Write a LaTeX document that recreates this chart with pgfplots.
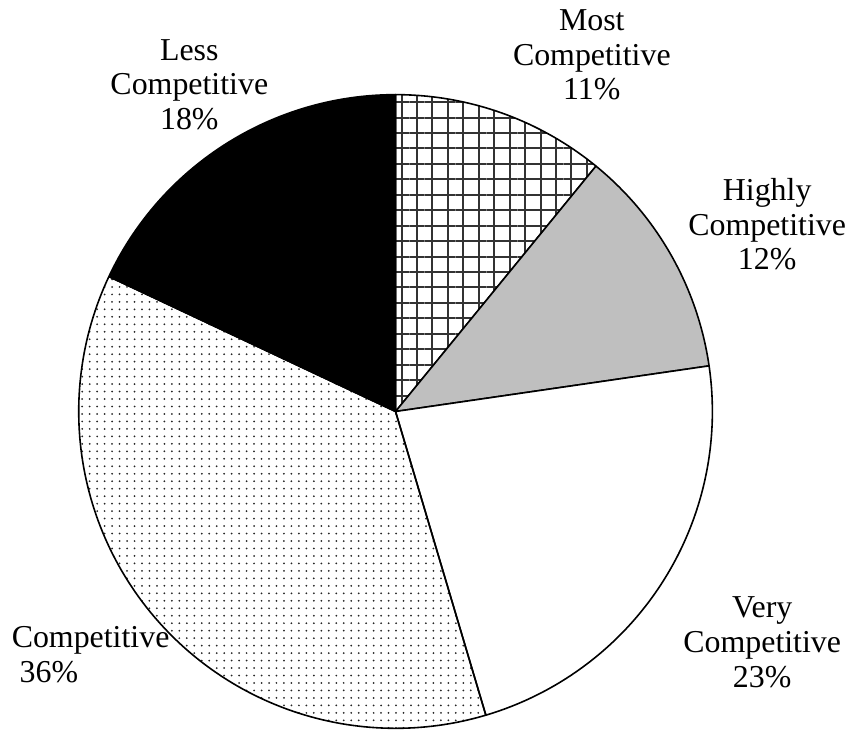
\documentclass[border=0pt]{standalone}
\usepackage{pgfplots}
\pgfplotsset{compat=1.18}
\usepackage{fontspec}
\setmainfont{Liberation Serif}
\usetikzlibrary{patterns.meta}
% Shares (percent), clockwise from 12 o'clock
% Most 10.9, Highly 11.8, Very 22.7, Competitive 36.6, Less 18.0
\begin{document}
\begin{tikzpicture}
\begin{axis}[
  x=1pt, y=1pt, xmin=0, xmax=846, ymin=0, ymax=738,
  scale only axis, hide axis, clip=false, enlargelimits=false,
  samples=120, variable=\t, line width=1.6pt, line join=round,
]
\path (axis cs:0,0) rectangle (axis cs:846,738);
% Most Competitive 10.9% : 90 -> 50.76
\addplot[draw=black, pattern={Hatch[angle=0, distance=15.5pt, line width=2pt]}, pattern color=black!80, domain=50.76:90]
  ({397+318*cos(\t)},{325+318*sin(\t)}) -- (axis cs:397,325) -- cycle;
% Highly Competitive 11.8% : 50.76 -> 8.28
\addplot[draw=black, fill=black!25, domain=8.28:50.76]
  ({397+318*cos(\t)},{325+318*sin(\t)}) -- (axis cs:397,325) -- cycle;
% Very Competitive 22.7% : 8.28 -> -73.44
\addplot[draw=black, fill=white, domain=-73.44:8.28]
  ({397+318*cos(\t)},{325+318*sin(\t)}) -- (axis cs:397,325) -- cycle;
% Competitive 36.6% : -73.44 -> -205.2
\addplot[draw=black, pattern={Dots[distance=7.5pt, radius=1pt]}, pattern color=black!85, domain=-205.2:-73.44]
  ({397+318*cos(\t)},{325+318*sin(\t)}) -- (axis cs:397,325) -- cycle;
% Less Competitive 18.0% : -205.2 -> -270
\addplot[draw=black, fill=black, domain=-270:-205.2]
  ({397+318*cos(\t)},{325+318*sin(\t)}) -- (axis cs:397,325) -- cycle;

\begin{scope}[every node/.style={font=\fontsize{32}{35}\selectfont, align=center, inner sep=0pt}]
\node at (axis cs:594,683) {Most\\Competitive\\11\%};
\node at (axis cs:770,513) {Highly\\Competitive\\12\%};
\node at (axis cs:765,93) {Very\\Competitive\\23\%};
\node[anchor=west, align=left] at (axis cs:11,81) {Competitive\\\hspace*{8pt}36\%};
\node at (axis cs:190,653) {Less\\Competitive\\18\%};
\end{scope}
\end{axis}
\end{tikzpicture}
\end{document}
